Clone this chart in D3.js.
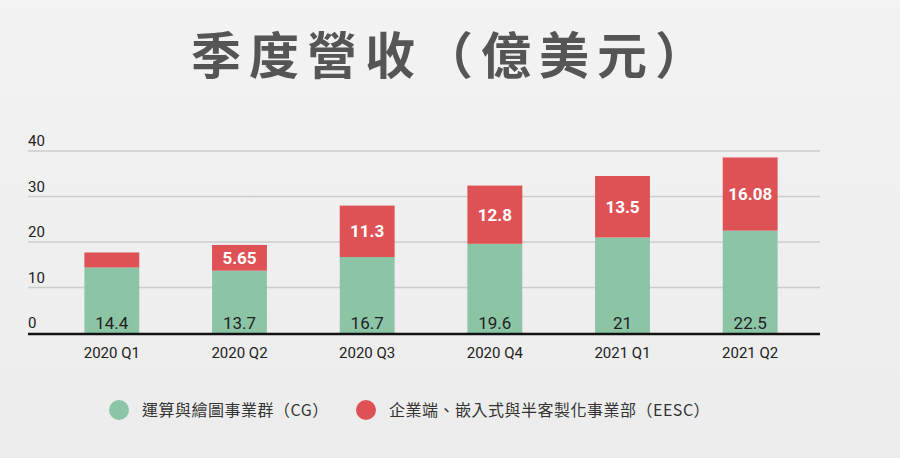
<!DOCTYPE html><html><head><meta charset="utf-8"><script src="https://cdn.jsdelivr.net/npm/d3@7"></script>
<style>body{margin:0;background:#f0f0f0}svg{display:block}</style></head><body><svg id="c" width="900" height="458"></svg><script>
const categories=["2020 Q1","2020 Q2","2020 Q3","2020 Q4","2021 Q1","2021 Q2"];
const cg=[14.4,13.7,16.7,19.6,21,22.5];
const eesc=[3.3,5.65,11.3,12.8,13.5,16.08];
const eescLabels=["","5.65","11.3","12.8","13.5","16.08"];
const yTicks=[0,10,20,30,40];
const seriesNames=["運算與繪圖事業群（CG）","企業端、嵌入式與半客製化事業部（EESC）"];
const colors=["#8cc5a6","#de5256"];
const svg=d3.select("#c");const F="'Noto Sans CJK TC',Roboto,sans-serif";
const g0=svg.append("defs").append("linearGradient").attr("id","bg").attr("x1",0).attr("y1",0).attr("x2",0).attr("y2",1);
g0.append("stop").attr("offset",0).attr("stop-color","#f3f3f3");g0.append("stop").attr("offset",1).attr("stop-color","#ececec");
svg.append("rect").attr("width",900).attr("height",458).attr("fill","url(#bg)");
svg.append("text").attr("x",452).attr("y",74).attr("text-anchor","middle").attr("font-family",F).attr("font-weight",700).attr("font-size",50).attr("letter-spacing",8).attr("fill","#555").text("季度營收（億美元）");
const x=d3.scaleBand().domain(categories).range([48,814]).paddingInner(0.57).paddingOuter(0.285);
const y=d3.scaleLinear().domain([0,40]).range([333,151]);
yTicks.forEach(t=>{if(t>0)svg.append("line").attr("x1",28).attr("x2",820).attr("y1",y(t)).attr("y2",y(t)).attr("stroke","#ccc").attr("stroke-width",1.5);
svg.append("text").attr("x",28).attr("y",y(t)-5).attr("font-family","Roboto,sans-serif").attr("font-size",15).attr("fill","#222").text(t);});
categories.forEach((c,i)=>{const bx=x(c),w=x.bandwidth();
svg.append("rect").attr("x",bx).attr("y",y(cg[i])).attr("width",w).attr("height",y(0)-y(cg[i])).attr("fill",colors[0]);
svg.append("rect").attr("x",bx).attr("y",y(cg[i]+eesc[i])).attr("width",w).attr("height",y(cg[i])-y(cg[i]+eesc[i])).attr("fill",colors[1]);
svg.append("text").attr("x",bx+w/2).attr("y",329).attr("text-anchor","middle").attr("font-family","Roboto,sans-serif").attr("font-size",17).attr("fill","#222").text(cg[i]);
if(eescLabels[i])svg.append("text").attr("x",bx+w/2).attr("y",(y(cg[i])+y(cg[i]+eesc[i]))/2+6).attr("text-anchor","middle").attr("font-family","Roboto,sans-serif").attr("font-weight",700).attr("font-size",17).attr("fill","#fff").text(eescLabels[i]);
svg.append("text").attr("x",bx+w/2).attr("y",358).attr("text-anchor","middle").attr("font-family","Roboto,sans-serif").attr("font-size",15).attr("fill","#222").text(c);});
svg.append("line").attr("x1",28).attr("x2",820).attr("y1",334).attr("y2",334).attr("stroke","#111").attr("stroke-width",2.5);
const lx=[119,366];
seriesNames.forEach((s,i)=>{svg.append("circle").attr("cx",lx[i]).attr("cy",410).attr("r",10).attr("fill",colors[i]);
svg.append("text").attr("x",lx[i]+23).attr("y",416).attr("font-family",F).attr("font-size",16).attr("letter-spacing",0.5).attr("fill","#333").text(s);});
</script></body></html>
